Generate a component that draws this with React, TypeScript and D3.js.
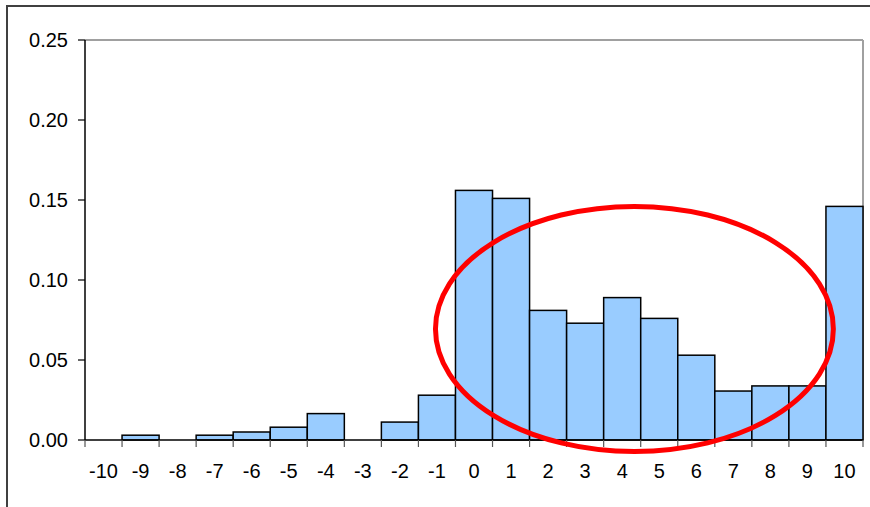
import React from "react";
import * as d3 from "d3";

// Histogram bins (-10 .. 10) and their relative frequencies
const categories = [-10, -9, -8, -7, -6, -5, -4, -3, -2, -1, 0, 1, 2, 3, 4, 5, 6, 7, 8, 9, 10];
const frequencies = [
  0, 0.003, 0, 0.003, 0.005, 0.008, 0.0165, 0, 0.0112, 0.028, 0.156,
  0.151, 0.081, 0.073, 0.089, 0.076, 0.053, 0.0306, 0.0338, 0.0338, 0.146,
];
const yTicks = [0, 0.05, 0.1, 0.15, 0.2, 0.25];

// Highlight ellipse, given in data units (bin value / frequency)
const highlightCenterBin = 4.33;
const highlightCenterValue = 0.0694;
const highlightHalfWidthBins = 5.37;
const highlightHalfHeightValue = 0.0766;

const W = 870;
const H = 507;
const plot = { left: 85, top: 40, right: 863, bottom: 440 };
const FONT = "'Liberation Sans', Arial, sans-serif";

export default function App() {
  const x = d3
    .scaleBand<number>()
    .domain(categories)
    .range([plot.left, plot.right])
    .paddingInner(0)
    .paddingOuter(0);
  const y = d3.scaleLinear().domain([0, 0.25]).range([plot.bottom, plot.top]);
  const bw = x.bandwidth();

  // continuous mapping from bin value to pixel (bin centre)
  const xVal = (v: number) => (x(categories[0]) as number) + (v - categories[0] + 0.5) * bw;

  const ecx = xVal(highlightCenterBin);
  const ecy = y(highlightCenterValue);
  const erx = highlightHalfWidthBins * bw;
  const ery = y(0) - y(highlightHalfHeightValue);

  const boundaries = d3.range(categories.length + 1).map((i) => plot.left + i * bw);

  return (
    <svg
      width={W}
      height={H}
      style={{ position: "fixed", left: 0, top: 0, background: "#fff" }}
      fontFamily={FONT}
    >
      {/* outer frame */}
      <rect x={7} y={6} width={W + 20} height={H + 20} fill="none" stroke="#404040" strokeWidth={2} />

      {/* plot border (top/right) */}
      <line x1={plot.left} x2={plot.right} y1={plot.top} y2={plot.top} stroke="#a0a0a0" strokeWidth={2} />
      <line x1={plot.right} x2={plot.right} y1={plot.top} y2={plot.bottom} stroke="#a0a0a0" strokeWidth={2} />

      {/* bars */}
      {categories.map((c, i) =>
        frequencies[i] > 0 ? (
          <rect
            key={c}
            x={x(c)}
            y={y(frequencies[i])}
            width={bw}
            height={y(0) - y(frequencies[i])}
            fill="#99CCFF"
            stroke="#000"
            strokeWidth={1.5}
          />
        ) : null
      )}

      {/* y axis */}
      <line x1={plot.left} x2={plot.left} y1={plot.top} y2={plot.bottom} stroke="#000" strokeWidth={1.5} />
      {yTicks.map((t) => (
        <g key={t}>
          <line x1={plot.left - 7} x2={plot.left} y1={y(t)} y2={y(t)} stroke="#000" strokeWidth={1.2} />
          <text
            x={68}
            y={y(t)}
            dy="0.36em"
            textAnchor="end"
            fontSize={20}
            fill="#000"
          >
            {d3.format(".2f")(t)}
          </text>
        </g>
      ))}

      {/* x axis */}
      <line x1={plot.left} x2={plot.right} y1={plot.bottom} y2={plot.bottom} stroke="#000" strokeWidth={1.5} />
      {boundaries.map((bx, i) => (
        <line key={i} x1={bx} x2={bx} y1={plot.bottom} y2={plot.bottom + 7} stroke="#555" strokeWidth={1.2} />
      ))}
      {categories.map((c) => (
        <text
          key={c}
          x={(x(c) as number) + bw / 2}
          y={478}
          textAnchor="middle"
          fontSize={20}
          fill="#000"
        >
          {c}
        </text>
      ))}

      {/* highlight */}
      <ellipse cx={ecx} cy={ecy} rx={erx} ry={ery} fill="none" stroke="#FF0000" strokeWidth={5} />
    </svg>
  );
}
